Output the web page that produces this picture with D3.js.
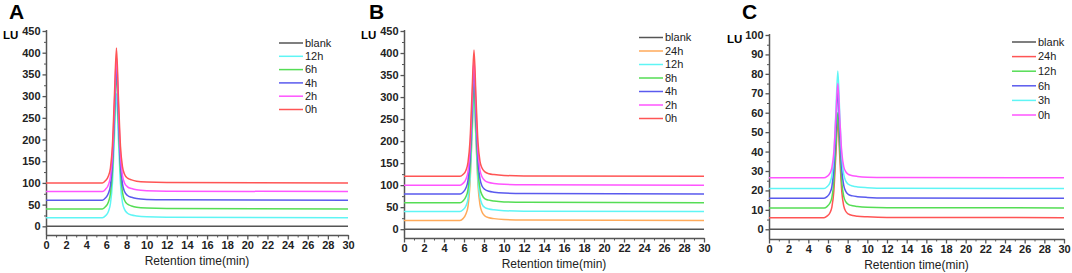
<!DOCTYPE html>
<html>
<head>
<meta charset="utf-8">
<script src="https://cdn.jsdelivr.net/npm/d3@7"></script>
<style>
  body { margin: 0; background: #fff; }
  text { font-family: "Liberation Sans", Arial, sans-serif; }
</style>
</head>
<body>
<svg id="chart" width="1072" height="273"></svg>
<script>
// shared retention-time sample points (min)
const times = [0, 5.6, 5.9, 6.2, 6.4, 6.6, 6.8, 7.0, 7.2, 7.4, 7.6, 7.8, 8.1, 8.5, 9.0, 10, 12, 30];

// panel A
const namesA = ["blank", "12h", "6h", "4h", "2h", "0h"];
const colorsA = ["#555555", "#5ff5f5", "#55dd55", "#5a5aee", "#ff55ff", "#ff5555"];
const valuesA = [
  [0, 0, 0, 0, 0, 0, 0, 0, 0, 0, 0, 0, 0, 0, 0, 0, 0, 0],
  [20, 20, 24, 34, 52, 100, 206, 306, 197, 97, 54, 39, 30, 26, 24, 22, 21, 20],
  [40, 40, 45, 56, 75, 128, 244, 354, 235, 125, 78, 60, 51, 47, 44, 42, 41, 40],
  [60, 60, 65, 76, 94, 147, 263, 372, 253, 144, 97, 80, 71, 67, 64, 62, 61, 60],
  [80, 80, 85, 96, 114, 167, 283, 392, 273, 164, 117, 100, 91, 87, 84, 82, 81, 80],
  [100, 100, 105, 116, 134, 187, 302, 411, 293, 184, 137, 120, 111, 107, 104, 102, 101, 100]
];
const yTicksA = [0, 50, 100, 150, 200, 250, 300, 350, 400, 450];

// panel B
const namesB = ["blank", "24h", "12h", "8h", "4h", "2h", "0h"];
const colorsB = ["#555555", "#ffaa5a", "#5ff5f5", "#55dd55", "#5a5aee", "#ff55ff", "#ff5555"];
const valuesB = [
  [0, 0, 0, 0, 0, 0, 0, 0, 0, 0, 0, 0, 0, 0, 0, 0, 0, 0],
  [20, 20, 24, 35, 52, 103, 212, 315, 203, 100, 55, 39, 30, 26, 24, 22, 21, 20],
  [40, 40, 44, 53, 69, 114, 212, 305, 204, 112, 72, 57, 49, 46, 44, 42, 41, 40],
  [60, 60, 64, 74, 90, 136, 236, 330, 227, 133, 92, 78, 69, 66, 64, 62, 61, 60],
  [80, 80, 84, 94, 111, 159, 264, 363, 255, 156, 114, 98, 90, 86, 84, 82, 81, 80],
  [100, 100, 104, 114, 131, 180, 285, 385, 277, 177, 134, 119, 110, 106, 104, 102, 101, 100],
  [120, 120, 124, 134, 152, 200, 307, 407, 298, 197, 154, 139, 130, 126, 124, 122, 121, 120]
];
const yTicksB = [0, 50, 100, 150, 200, 250, 300, 350, 400, 450];

// panel C
const namesC = ["blank", "24h", "12h", "6h", "3h", "0h"];
const colorsC = ["#555555", "#ff5555", "#55dd55", "#5a5aee", "#5ff5f5", "#ff55ff"];
const valuesC = [
  [0, 0, 0, 0, 0, 0, 0, 0, 0, 0, 0, 0, 0, 0, 0, 0, 0, 0],
  [6, 6, 6.8, 8.5, 11.5, 20, 38.5, 56, 37, 19.5, 12, 9.3, 7.8, 7.1, 6.7, 6.4, 6.1, 6],
  [11, 11, 11.7, 13.5, 16.4, 24.7, 42.9, 60, 41.4, 24.2, 16.9, 14.2, 12.7, 12.1, 11.7, 11.3, 11.1, 11],
  [16, 16, 16.8, 18.8, 22.1, 31.4, 51.8, 71, 50.1, 30.9, 22.6, 19.6, 17.9, 17.2, 16.8, 16.4, 16.1, 16],
  [21, 21, 21.9, 24, 27.7, 37.9, 60.3, 81.5, 58.5, 37.3, 28.3, 24.9, 23.1, 22.3, 21.8, 21.4, 21.1, 21],
  [26.5, 26.5, 27.2, 28.9, 31.8, 40.1, 58, 75, 56.6, 39.6, 32.3, 29.7, 28.2, 27.6, 27.2, 26.8, 26.6, 26.5]
];
const yTicksC = [0, 10, 20, 30, 40, 50, 60, 70, 80, 90, 100];

const xTicks = d3.range(0, 31, 2);

const panels = [
  { letter: "A", names: namesA, colors: colorsA, values: valuesA, yTicks: yTicksA,
    yDomain: [-20, 450], minor: 25, left: 46, right: 348, top: 31, bottom: 235,
    letterX: 9, luX: 3, legX: 279, legY: 43, legStep: 13.3 },
  { letter: "B", names: namesB, colors: colorsB, values: valuesB, yTicks: yTicksB,
    yDomain: [-20, 450], minor: 25, left: 404, right: 704, top: 31, bottom: 238,
    letterX: 369, luX: 361, legX: 639, legY: 37.5, legStep: 13.5 },
  { letter: "C", names: namesC, colors: colorsC, values: valuesC, yTicks: yTicksC,
    yDomain: [-5, 100], minor: 5, left: 769, right: 1064, top: 35, bottom: 239,
    letterX: 742, luX: 727, legX: 1012, legY: 42, legStep: 14.6 }
];

const svg = d3.select("#chart");
const axisColor = "#555";

panels.forEach(p => {
  const g = svg.append("g");

  const x = d3.scaleLinear([0, 30], [p.left, p.right]);
  const y = d3.scaleLinear(p.yDomain, [p.bottom, p.top]);

  // minor ticks
  const yMinor = d3.range(0, p.yDomain[1] + 0.1, p.minor).filter(v => !p.yTicks.includes(v));
  const xMinor = d3.range(1, 30, 2);

  g.append("g")
    .attr("transform", `translate(${p.left},0)`)
    .call(d3.axisLeft(y).tickValues(yMinor).tickSize(2).tickFormat(""))
    .call(a => a.select(".domain").remove())
    .call(a => a.selectAll("line").attr("stroke", axisColor).attr("stroke-width", 1));

  g.append("g")
    .attr("transform", `translate(0,${p.bottom})`)
    .call(d3.axisBottom(x).tickValues(xMinor).tickSize(2.5).tickFormat(""))
    .call(a => a.select(".domain").remove())
    .call(a => a.selectAll("line").attr("stroke", axisColor).attr("stroke-width", 1));

  // major y axis
  g.append("g")
    .attr("transform", `translate(${p.left},0)`)
    .call(d3.axisLeft(y).tickValues(p.yTicks).tickSize(3.5).tickSizeOuter(0).tickPadding(2))
    .call(a => a.select(".domain").attr("stroke", axisColor).attr("stroke-width", 1.5)
      .attr("d", `M0.5,${p.top - 1}V${p.bottom}`))
    .call(a => a.selectAll("line").attr("stroke", axisColor).attr("stroke-width", 1.3))
    .call(a => a.selectAll("text").attr("fill", "#222").style("font-size", "11px").style("font-weight", "bold"));

  // major x axis
  g.append("g")
    .attr("transform", `translate(0,${p.bottom})`)
    .call(d3.axisBottom(x).tickValues(xTicks).tickSize(4.5).tickSizeOuter(0).tickPadding(2))
    .call(a => a.select(".domain").attr("stroke", axisColor).attr("stroke-width", 1.5))
    .call(a => a.selectAll("line").attr("stroke", axisColor).attr("stroke-width", 1.3))
    .call(a => a.selectAll("text").attr("fill", "#222").style("font-size", "11px").style("font-weight", "bold"));

  g.append("text")
    .attr("x", (p.left + p.right) / 2)
    .attr("y", p.bottom + 30)
    .attr("text-anchor", "middle")
    .attr("fill", "#222")
    .style("font-size", "12px")
    .text("Retention time(min)");

  g.append("text")
    .attr("x", p.letterX)
    .attr("y", 19)
    .attr("fill", "#000")
    .style("font-size", "21px")
    .style("font-weight", "bold")
    .text(p.letter);

  g.append("text")
    .attr("x", p.luX)
    .attr("y", p.top + 8)
    .attr("fill", "#000")
    .style("font-size", "11.5px")
    .style("font-weight", "bold")
    .text("LU");

  // curves
  const line = d3.line()
    .x((d, i) => x(times[i]))
    .y(d => y(d))
    .curve(d3.curveMonotoneX);

  p.values.forEach((vals, k) => {
    g.append("path")
      .attr("d", line(vals))
      .attr("fill", "none")
      .attr("stroke", p.colors[k])
      .attr("stroke-width", k === 0 ? 1.6 : 1.5);
  });

  // legend
  const leg = g.append("g");
  p.names.forEach((name, k) => {
    const ly = p.legY + k * p.legStep;
    leg.append("line")
      .attr("x1", p.legX).attr("x2", p.legX + 24)
      .attr("y1", ly).attr("y2", ly)
      .attr("stroke", p.colors[k])
      .attr("stroke-width", 1.5);
    leg.append("text")
      .attr("x", p.legX + 26)
      .attr("y", ly)
      .attr("dy", "0.35em")
      .attr("fill", "#222")
      .style("font-size", "11px")
      .text(name);
  });
});
</script>
</body>
</html>
